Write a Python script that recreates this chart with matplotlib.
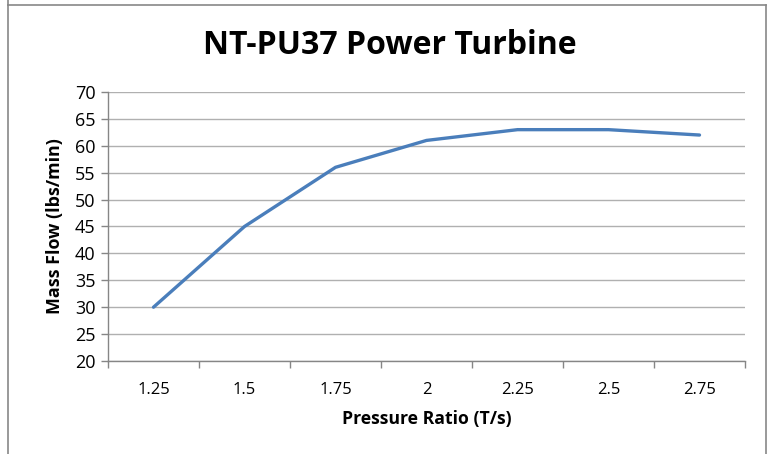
import matplotlib.pyplot as plt
from matplotlib.lines import Line2D

# data
pressure_ratio = ["1.25", "1.5", "1.75", "2", "2.25", "2.5", "2.75"]
mass_flow = [30, 45, 56, 61, 63, 63, 62]
y_ticks = list(range(20, 75, 5))

plt.rcParams['font.family'] = ['Open Sans', 'DejaVu Sans']

W, H = 772, 454
fig = plt.figure(figsize=(W / 100, H / 100), dpi=100)
ax = fig.add_axes([108 / W, 1 - 361 / H, (745 - 108) / W, (361 - 92) / H])

x = range(len(pressure_ratio))
ax.plot(x, mass_flow, color='#4A7EBB', lw=2.4, solid_capstyle='round', solid_joinstyle='round')

ax.set_xlim(-0.5, len(pressure_ratio) - 0.5)
ax.set_ylim(20, 70)
ax.set_yticks(y_ticks)
ax.set_xticks(x)
ax.set_xticklabels(pressure_ratio)
# category boundary ticks like Excel
ax.set_xticks([i - 0.5 for i in range(len(pressure_ratio) + 1)], minor=True)
ax.tick_params(axis='x', which='major', length=0, pad=15, labelsize=12, colors='#000000')
ax.tick_params(axis='x', which='minor', length=5, color='#868686', width=1)
ax.tick_params(axis='y', length=5, color='#868686', width=1, labelsize=13, pad=4)

ax.grid(axis='y', color='#B0B0B0', lw=1)
ax.set_axisbelow(True)
for side in ('top', 'right'):
    ax.spines[side].set_visible(False)
for side in ('left', 'bottom'):
    ax.spines[side].set_color('#868686')
    ax.spines[side].set_linewidth(1)

ax.set_xlabel('Pressure Ratio (T/s)', fontsize=12.7, fontweight='bold', labelpad=9)
ax.set_ylabel('Mass Flow (lbs/min)', fontsize=12.9, fontweight='bold', labelpad=8)

fig.text(390 / W, 1 - 46 / H, 'NT-PU37 Power Turbine', ha='center', va='center',
         fontsize=23, fontweight='bold')

# chart frame
for xs, ys in [((8, 8), (0, 5)), ((8, 766), (5, 5)), ((766, 766), (5, H))]:
    fig.add_artist(Line2D([v / W for v in xs], [1 - v / H for v in ys],
                          color='#888888', lw=1.2, transform=fig.transFigure))
fig.add_artist(Line2D([8 / W, 8 / W], [0, 1 - 5 / H], color='#888888', lw=1.2,
                      transform=fig.transFigure))

fig.savefig('out.png', dpi=100)
